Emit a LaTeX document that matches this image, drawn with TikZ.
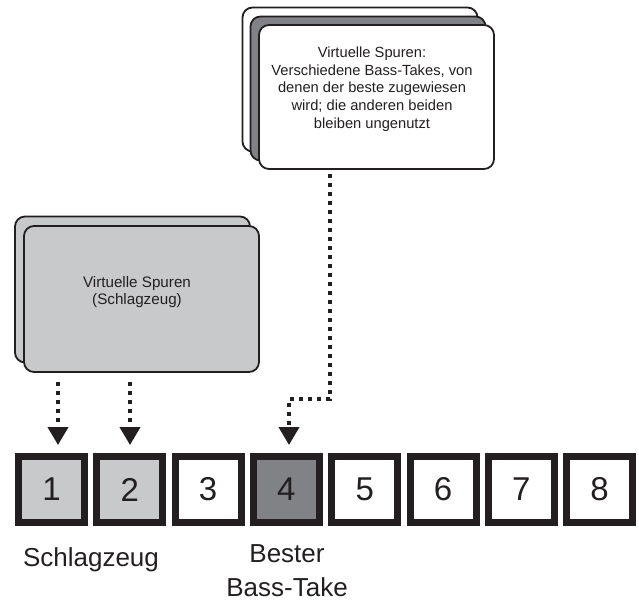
\documentclass[tikz,border=0pt]{standalone}
\usepackage{fontspec}
\setmainfont{Liberation Sans}
\usetikzlibrary{arrows.meta}
\definecolor{ink}{HTML}{231F20}
\definecolor{lightgrey}{HTML}{C8C9CB}
\definecolor{darkgrey}{HTML}{808285}
\begin{document}
\begin{tikzpicture}[x=1pt,y=-1pt,every node/.style={text=ink},
    card/.style={draw=ink,line width=1.8pt,rounded corners=10pt,
        minimum width=235pt,minimum height=144pt,inner sep=0pt},
    track/.style={draw=ink,line width=7pt,minimum size=66pt,inner sep=0pt,
        font=\fontsize{33}{40}\selectfont},
    dotarrow/.style={draw=ink,line width=4pt,dash pattern=on 4pt off 5pt,
        shorten >=8pt,-{Triangle[width=20pt,length=18pt]}}]
    \useasboundingbox (0,0) rectangle (639,602);
    \node[card,fill=white] (bassback) at (360,79.5) {};
    \node[card,fill=darkgrey] (bassmid) at (368,88.5) {};
    \node[card,fill=white] (bassfront) at (376.5,97) {};
    \node[align=center,inner sep=0pt,font=\fontsize{14.7}{17.75}\selectfont]
        (basstext) at (372,89) {Virtuelle Spuren:\\Verschiedene Bass-Takes, von\\
        denen der beste zugewiesen\\wird; die anderen beiden\\bleiben ungenutzt};
    \node[card,fill=lightgrey,minimum height=146pt] (drumback) at (132.5,289.5) {};
    \node[card,fill=lightgrey,minimum height=146pt] (drumfront) at (141.5,299) {};
    \node[align=center,inner sep=0pt,font=\fontsize{15.2}{17}\selectfont]
        (drumtext) at (137,292.5) {Virtuelle Spuren\\(Schlagzeug)};
    \foreach \i/\col in {1/lightgrey,2/lightgrey,3/white,4/darkgrey,5/white,6/white,7/white,8/white}
        \node[track,fill=\col] (t\i) at ({51.5+78.3*(\i-1)},489.5) {\i};
    \coordinate (d1) at (58,382);
    \coordinate (d2) at (130,382);
    \draw[dotarrow] (d1) -- (d1 |- t1.north);
    \draw[dotarrow] (d2) -- (d2 |- t2.north);
    \coordinate (b1) at (330,174);
    \coordinate (b2) at (289,399);
    \draw[dotarrow] (b1) |- (b2) -- (b2 |- t4.north);
    \node[anchor=base,inner sep=0pt,font=\fontsize{26}{34}\selectfont]
        (drumlbl) at (91,566) {Schlagzeug};
    \node[anchor=south,align=center,inner sep=0pt,font=\fontsize{26}{34}\selectfont]
        (basslbl) at (287,597) {Bester\\Bass-Take};
\end{tikzpicture}
\end{document}
